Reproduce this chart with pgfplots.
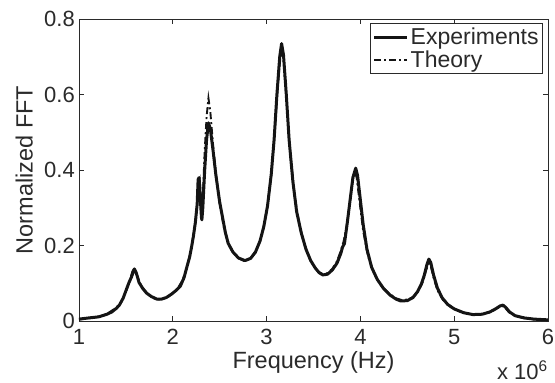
\documentclass[border=0pt]{standalone}
\usepackage{pgfplots}
\pgfplotsset{compat=1.18}
\usepackage{fontspec}
\setmainfont{Liberation Sans}
\definecolor{axgray}{HTML}{2A2A2A}
\definecolor{lineblk}{HTML}{141414}
\begin{document}
\begin{tikzpicture}
\path (-79pt,-62pt) rectangle (476pt,321pt);
\begin{axis}[
  at={(0pt,0pt)}, anchor=south west,
  scale only axis, width=469pt, height=302pt,
  xmin=1, xmax=6, ymin=0, ymax=0.8,
  xtick={1,2,3,4,5,6}, ytick={0,0.2,0.4,0.6,0.8},
  tick align=inside, major tick length=5pt,
  axis line style={axgray, line width=0.9pt},
  every tick/.style={axgray, line width=0.8pt},
  /pgf/number format/assume math mode=true,
  ticklabel style={font=\fontsize{22}{26}\selectfont, text=axgray},
  xticklabel style={inner sep=0pt, anchor=north, yshift=-8pt},
  yticklabel style={inner sep=0pt, anchor=east, xshift=-4pt},
  label style={font=\fontsize{23.5}{28}\selectfont, text=axgray},
  xlabel={Frequency (Hz)},
  ylabel={Normalized FFT},
  xlabel style={at={(axis description cs:0.5,-0.0993)}, anchor=north, inner sep=0pt},
  ylabel style={at={(axis description cs:-0.0981,0.5)}, anchor=south, inner sep=0pt},
  legend cell align=left,
  legend image code/.code={\draw[#1] (0pt,0pt) -- (33pt,0pt);},
  legend style={at={(rel axis cs:1,1)}, anchor=north east, xshift=-5pt, yshift=-4pt,
    draw=axgray, line width=0.9pt, inner xsep=2pt, inner ysep=2pt,
    font=\fontsize{23}{27}\selectfont, text=axgray,
    nodes={inner xsep=2pt, inner ysep=2.5pt}},
]
\addplot[lineblk, line width=3pt, line join=round] coordinates {
(1.00,0.005) (1.10,0.008) (1.21,0.011) (1.30,0.018) (1.35,0.024) (1.40,0.034) (1.43,0.042)
(1.47,0.060) (1.50,0.080) (1.53,0.100) (1.56,0.117) (1.59,0.138) (1.61,0.128) (1.64,0.102)
(1.68,0.086) (1.72,0.074) (1.77,0.065) (1.83,0.058) (1.88,0.058) (1.93,0.062) (1.99,0.072)
(2.04,0.082) (2.08,0.092) (2.12,0.115) (2.15,0.143) (2.18,0.170) (2.20,0.196) (2.22,0.225)
(2.24,0.260) (2.26,0.310) (2.27,0.375) (2.28,0.380) (2.29,0.340) (2.305,0.275) (2.31,0.268)
(2.32,0.300) (2.34,0.400) (2.36,0.480) (2.38,0.525) (2.40,0.510) (2.43,0.450) (2.46,0.385)
(2.50,0.315) (2.53,0.275) (2.56,0.235) (2.59,0.206) (2.64,0.183) (2.70,0.167) (2.77,0.160)
(2.83,0.166) (2.88,0.182) (2.93,0.212) (2.97,0.250) (3.01,0.305) (3.05,0.390) (3.08,0.480)
(3.11,0.600) (3.14,0.700) (3.16,0.735) (3.18,0.705) (3.21,0.600) (3.24,0.480) (3.28,0.370)
(3.32,0.290) (3.37,0.233) (3.42,0.190) (3.47,0.160) (3.52,0.140) (3.56,0.128) (3.60,0.122)
(3.65,0.124) (3.70,0.135) (3.75,0.153) (3.79,0.178) (3.81,0.196) (3.83,0.205) (3.86,0.260)
(3.89,0.320) (3.92,0.380) (3.95,0.405) (3.97,0.385) (4.00,0.320) (4.03,0.255) (4.07,0.190)
(4.12,0.142) (4.18,0.110) (4.25,0.085) (4.32,0.068) (4.38,0.058) (4.43,0.053) (4.50,0.054)
(4.56,0.062) (4.61,0.078) (4.65,0.098) (4.68,0.120) (4.71,0.150) (4.73,0.164) (4.75,0.155)
(4.78,0.122) (4.82,0.088) (4.87,0.062) (4.93,0.044) (5.00,0.032) (5.10,0.022) (5.20,0.017)
(5.30,0.018) (5.38,0.024) (5.44,0.032) (5.49,0.040) (5.52,0.042) (5.55,0.036) (5.59,0.024)
(5.65,0.014) (5.75,0.008) (5.85,0.005) (6.00,0.003)
};
\addlegendentry{Experiments}
\addplot[lineblk, line width=1.9pt, dash pattern=on 7pt off 3pt on 2pt off 3pt] coordinates {
(1.00,0.004) (1.10,0.007) (1.20,0.011) (1.30,0.019) (1.40,0.036) (1.45,0.050) (1.50,0.077)
(1.54,0.107) (1.57,0.132) (1.59,0.140) (1.61,0.128) (1.65,0.100) (1.70,0.081) (1.75,0.068)
(1.80,0.060) (1.85,0.057) (1.90,0.059) (1.95,0.064) (2.00,0.073) (2.05,0.086) (2.10,0.106)
(2.15,0.140) (2.20,0.195) (2.24,0.260) (2.27,0.330) (2.29,0.365) (2.31,0.300) (2.32,0.330)
(2.34,0.450) (2.36,0.540) (2.38,0.590) (2.40,0.555) (2.43,0.465) (2.46,0.390) (2.50,0.310)
(2.55,0.240) (2.60,0.203) (2.65,0.180) (2.70,0.166) (2.77,0.158) (2.83,0.166) (2.90,0.192)
(2.95,0.227) (3.00,0.288) (3.05,0.385) (3.09,0.515) (3.12,0.625) (3.15,0.705) (3.16,0.715)
(3.18,0.690) (3.21,0.590) (3.25,0.450) (3.30,0.330) (3.35,0.255) (3.40,0.205) (3.45,0.170)
(3.50,0.147) (3.55,0.131) (3.60,0.124) (3.65,0.127) (3.70,0.138) (3.75,0.158) (3.79,0.185)
(3.82,0.210) (3.85,0.245) (3.89,0.315) (3.92,0.375) (3.94,0.395) (3.96,0.380) (3.99,0.318)
(4.03,0.238) (4.08,0.173) (4.15,0.124) (4.22,0.094) (4.30,0.074) (4.38,0.060) (4.45,0.055)
(4.52,0.058) (4.58,0.067) (4.63,0.085) (4.67,0.106) (4.70,0.135) (4.73,0.152) (4.75,0.145)
(4.78,0.115) (4.82,0.082) (4.88,0.056) (4.95,0.039) (5.05,0.026) (5.15,0.019) (5.25,0.017)
(5.35,0.020) (5.42,0.028) (5.48,0.037) (5.51,0.040) (5.54,0.036) (5.58,0.024) (5.65,0.013)
(5.75,0.007) (5.85,0.004) (6.00,0.003)
};
\addlegendentry{Theory}
\end{axis}
\node[anchor=base east, inner sep=0pt, text=axgray, font=\fontsize{22}{26}\selectfont] at (469pt,-58.5pt) {x 10\textsuperscript{6}};
\end{tikzpicture}
\end{document}
